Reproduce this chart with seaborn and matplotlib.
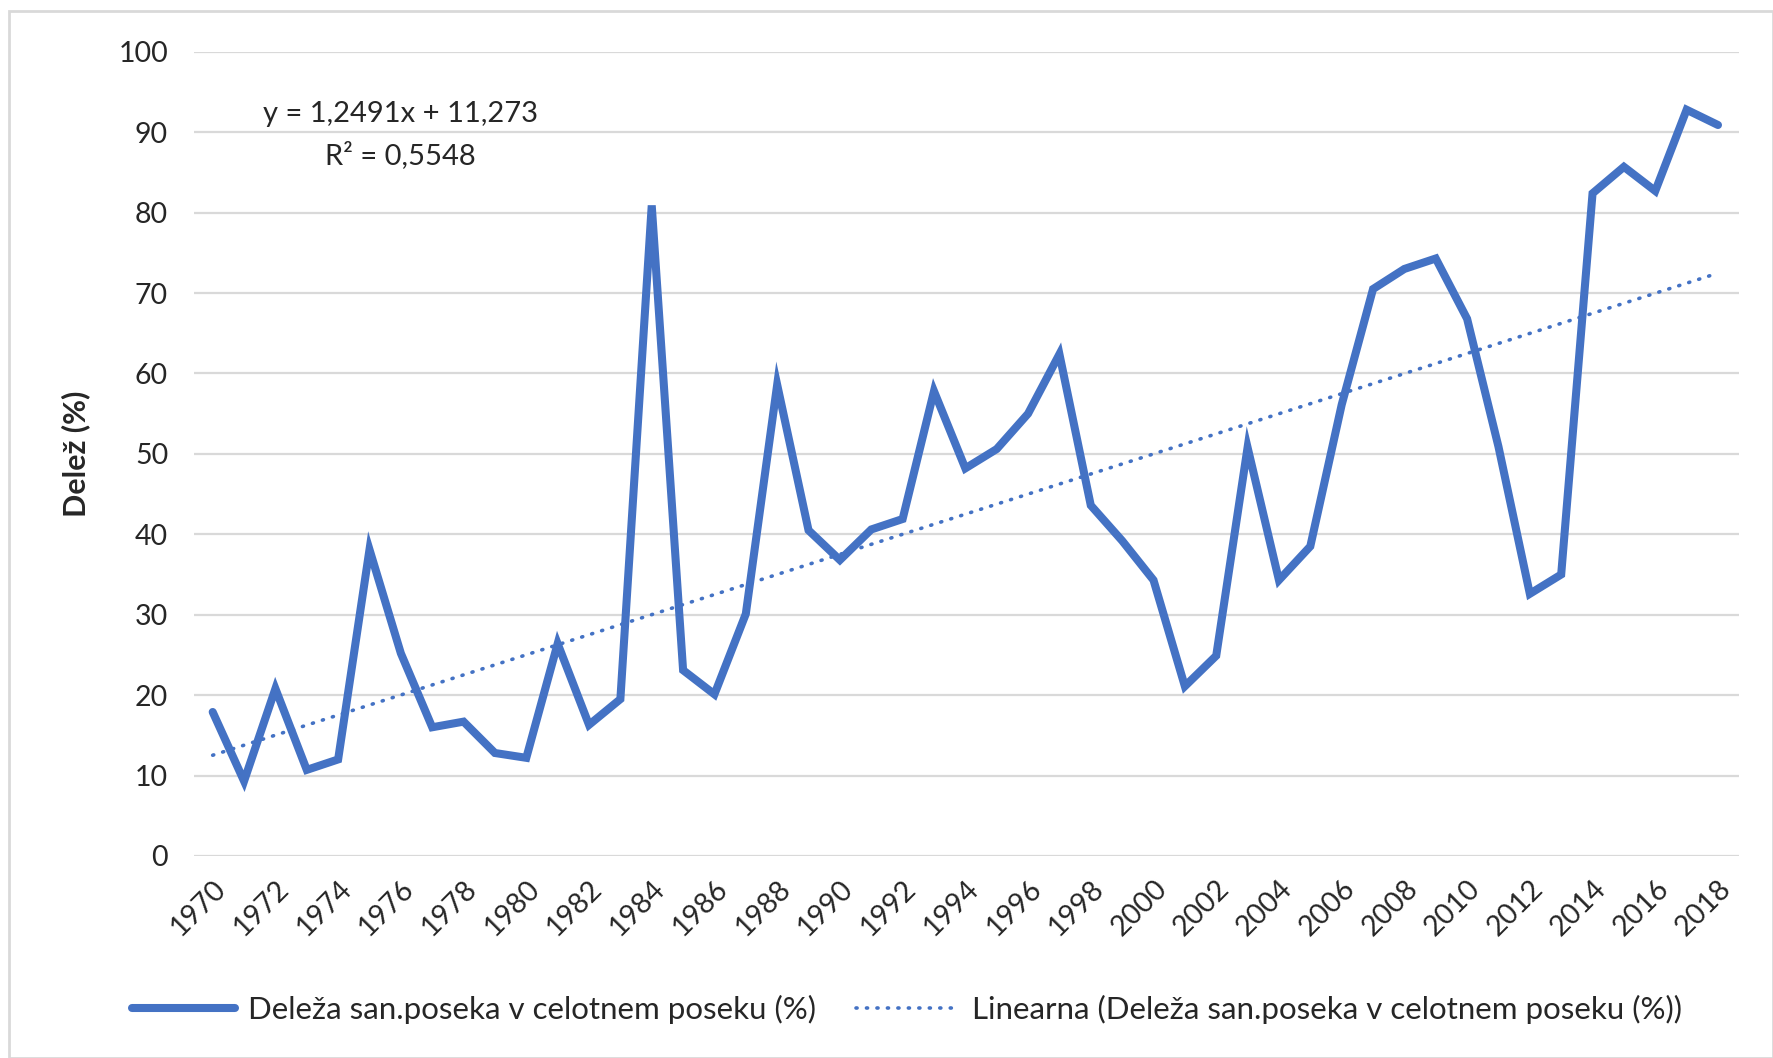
import numpy as np
import pandas as pd
import matplotlib
matplotlib.use("Agg")
import matplotlib.pyplot as plt
import seaborn as sns

# DATA

years = list(range(1970, 2019))
share = [17.9, 9.3, 20.8, 10.7, 12.0, 38.1, 25.2, 16.0, 16.7, 12.8,
         12.2, 26.4, 16.3, 19.5, 80.9, 23.1, 20.1, 30.1, 58.6, 40.5,
         36.8, 40.6, 41.9, 57.8, 48.2, 50.6, 55.0, 62.4, 43.6, 39.2,
         34.3, 21.1, 24.9, 50.8, 34.3, 38.5, 56.1, 70.5, 73.0, 74.3,
         66.8, 50.9, 32.6, 35.0, 82.4, 85.7, 82.7, 92.8, 90.9]
trend_slope = 1.2491
trend_intercept = 11.273
r_squared = "0,5548"
y_ticks = [0, 10, 20, 30, 40, 50, 60, 70, 80, 90, 100]
series_label = "Deleža san.poseka v celotnem poseku (%)"
trend_label = "Linearna (Deleža san.poseka v celotnem poseku (%))"

df = pd.DataFrame({"leto": years, "delez": share})
df["trend"] = trend_slope * (np.arange(len(years)) + 1) + trend_intercept

# STYLE

sns.set_style("white")
plt.rcParams['font.family'] = ['Lato', 'DejaVu Sans']
blue = "#4472C4"
txt = "#262626"
fs = 20.5

fig = plt.figure(figsize=(17.73, 10.58), dpi=100)
ax = fig.add_axes([0.1097, 0.191, 0.8713, 0.76])

sns.lineplot(data=df, x="leto", y="delez", ax=ax, color=blue, linewidth=5.8,
             label=series_label, solid_capstyle="round", solid_joinstyle="miter")
sns.lineplot(data=df, x="leto", y="trend", ax=ax, color=blue, linewidth=2.6,
             linestyle=(0, (0.3, 2.6)), dash_capstyle="round", label=trend_label)

ax.set_xlim(1970 - 0.58, 2018 + 0.68)
ax.set_ylim(0, 100)
ax.set_yticks(y_ticks)
ax.set_xticks(years[::2])
ax.set_xticklabels([str(y) for y in years[::2]], rotation=45, ha="right",
                   rotation_mode="anchor", fontsize=fs, color=txt)
ax.tick_params(axis="y", labelsize=fs, labelcolor=txt, length=0, pad=19)
ax.tick_params(axis="x", length=0, pad=14)
ax.grid(axis="y", color="#D9D9D9", linewidth=1.6)
ax.set_axisbelow(True)
for s in ["top", "right", "left", "bottom"]:
    ax.spines[s].set_visible(False)

ax.set_xlabel("")
ax.set_ylabel("Delež (%)", fontsize=22, fontweight="bold", color=txt, labelpad=20)

# trendline equation
ax.text(1976.0, 92.3, "y = 1,2491x + 11,273", fontsize=21, ha="center", va="center", color=txt)
ax.text(1976.0, 87.1, "R² = " + r_squared, fontsize=21, ha="center", va="center", color=txt)

ax.legend(loc="center", bbox_to_anchor=(0.5115, 0.046), bbox_transform=fig.transFigure,
          ncol=2, frameon=False, fontsize=22.5, handlelength=3.3, columnspacing=1.3,
          handletextpad=0.4, labelcolor=txt)

# chart frame
fig.patches.append(plt.Rectangle((9 / 1773, 0), 1 - 9 / 1773, 1 - 11 / 1058,
                                 transform=fig.transFigure, fill=False,
                                 edgecolor="#D9D9D9", linewidth=2))

fig.savefig("out.png", dpi=100)
